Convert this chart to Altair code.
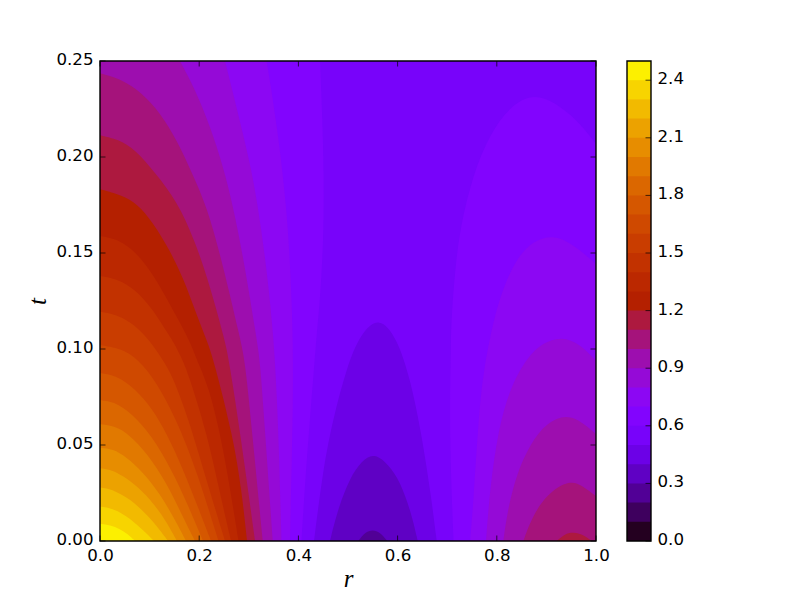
import math
import altair as alt
import pandas as pd

R_MAX, T_MAX, C_MAX = 1.0, 0.25, 2.5
x_ticks = [0.0, 0.2, 0.4, 0.6, 0.8, 1.0]
y_ticks = [0.0, 0.05, 0.10, 0.15, 0.20, 0.25]
cbar_ticks = [0.0, 0.3, 0.6, 0.9, 1.2, 1.5, 1.8, 2.1, 2.4]
band_low = [i / 10 for i in range(25)]

# contour lines: band number to fill, r values, t values
# these two bend back on themselves in r, so they are filled sideways from r = 0
left_steep = [
 (6, [.44, .4435, .4486, .4516, .4506, .4435, .4369, .4315, .4234, .4133, .4062],
     [.28, .25, .2188, .1875, .1563, .125, .1078, .0901, .0641, .0297, 0]),
 (7, [.317, .3361, .3563, .3764, .3851, .3891, .3891, .3871, .3831],
     [.28, .25, .2177, .1745, .1354, .1042, .0729, .0469, 0]),
]
left = [
 (8, [0, .223, .2520, .2782, .3024, .3185, .3367, .3508, .3569, .3609, .3659],
     [.28, .28, .25, .2229, .1969, .1745, .1406, .1042, .0729, .0469, 0]),
 (9, [0, .099, .1613, .1915, .2218, .2480, .2681, .2903, .3165, .3226, .3327, .3482],
     [.28, .28, .25, .2354, .2161, .1953, .1745, .1458, .1042, .0938, .0573, 0]),
 (10, [0, .0438, .0841, .1210, .1579, .1849, .2151, .2460, .2837, .2923, .3065, .3280],
      [.2436, .2405, .2335, .2231, .2074, .1918, .1745, .1458, .1042, .0938, .0573, 0]),
 (11, [0, .0369, .0706, .1109, .1552, .1915, .2218, .2520, .2601, .2823, .3125],
      [.2113, .2092, .2040, .1918, .1771, .1563, .1328, .1042, .0938, .0573, 0]),
 (12, [0, .0369, .0671, .0974, .1345, .1680, .1956, .2157, .2298, .2687, .2857, .2964],
      [.1832, .1806, .1771, .1693, .1545, .1371, .1172, .1042, .0938, .0538, .0260, 0]),
 (13, [0, .0369, .0706, .1075, .1446, .1815, .1956, .2177, .2480, .2792],
      [.1589, .1571, .1510, .1389, .1215, .1042, .0938, .0818, .0505, 0]),
 (14, [0, .0369, .0706, .1042, .1377, .1472, .1680, .1849, .2157, .2419, .2641],
      [.1380, .1363, .1311, .1215, .1077, .1042, .0938, .0816, .0557, .0250, 0]),
 (15, [0, .0369, .0706, .1008, .1276, .1446, .1780, .2151, .2520],
      [.1194, .1177, .1125, .1042, .0938, .0868, .0642, .0313, 0]),
 (16, [0, .0504, .0873, .1244, .1579, .1950, .2389],
      [.1021, .1000, .0920, .0781, .0608, .0365, 0]),
 (17, [0, .0363, .0706, .1048, .1351, .1673, .2006, .2238],
      [.0875, .0859, .0792, .0693, .0557, .0375, .0156, 0]),
 (18, [0, .0302, .0625, .1038, .1452, .1764, .2077],
      [.0734, .0724, .0667, .0552, .0367, .0193, 0]),
 (19, [0, .0302, .0575, .0958, .1341, .1633, .1915],
      [.0608, .0599, .0557, .0456, .0302, .0146, 0]),
 (20, [0, .0262, .0524, .0867, .1210, .1492, .1734],
      [.0486, .0479, .0438, .0359, .0245, .0120, 0]),
 (21, [0, .0242, .0464, .0776, .1089, .1331, .1552],
      [.0379, .0370, .0339, .0281, .0193, .0104, 0]),
 (22, [0, .0202, .0403, .0685, .0968, .1190, .1371],
      [.0278, .0271, .0247, .0203, .0130, .0063, 0]),
 (23, [0, .0202, .0403, .0645, .0867, .1089],
      [.0179, .0172, .0151, .0109, .0057, 0]),
 (24, [0, .0202, .0403, .0565, .0706],
      [.0090, .0083, .0063, .0036, 0]),
]
centre = [
 (4, [.4315, .4502, .4704, .4974, .5242, .5631, .5982, .6250, .6486, .6688, .6788],
     [0, .0382, .0642, .0903, .1077, .1172, .1059, .0851, .0556, .0208, 0]),
 (3, [.4637, .4804, .5040, .5276, .5524, .5813, .6048, .6284, .6405],
     [0, .0173, .0330, .0417, .0460, .0399, .0313, .0139, 0]),
 (2, [.5208, .5343, .5498, .5645, .5792], [0, .0045, .0060, .0045, 0]),
]
# the 0.6 contour on the right: its arch, then the part of band 5 that cuts into it
arch_r = [.7040, .7056, .7077, .7157, .7258, .7520, .7863, .8266, .8770, .9274, .9677, 1.0]
arch_t = [0, .0833, .1146, .1406, .1630, .1911, .2120, .2266, .2335, .2266, .2177, .2068]
cut_r = [.7127, .7056, .7056, .7077]
cut_t = [0, .0469, .0833, .1146]
right = [
 (7, [.7460, .7520, .7627, .7728, .7929, .8125, .8401, .8730, .9133, .9536, 1.0],
     [0, .0172, .0625, .0885, .1146, .1318, .1474, .1563, .1595, .1547, .1443]),
 (8, [.7782, .7863, .8024, .8266, .8603, .8931, .9308, .9677, 1.0],
     [0, .0276, .0573, .0797, .0955, .1033, .1066, .1026, .0938]),
 (9, [.8131, .8226, .8401, .8669, .9006, .9409, .9738, 1.0],
     [0, .0172, .0349, .0505, .0616, .0660, .0616, .0557]),
 (10, [.8534, .8704, .9006, .9476, .9738, 1.0],
      [0, .0121, .0245, .0320, .0286, .0234]),
 (11, [.9208, .9375, .9542, .9744, .9913], [0, .0038, .0046, .0033, 0]),
]


def band_colour(i):
    x = (i + .5) / 25
    r, g, b = math.sqrt(x), x ** 3, max(0.0, math.sin(2 * math.pi * x))
    return "#%02x%02x%02x" % (round(r * 255), round(g * 255), round(b * 255))


W, H = 496, 480
CW = 24
LABEL = dict(labelFont="DejaVu Sans", labelFontSize=16.67, labelColor="black",
             ticks=False, domain=False, grid=False, labelFlush=False)
TITLE = dict(titleFont="Liberation Serif", titleFontStyle="italic", titleFontWeight="normal",
             titleFontSize=25, titleColor="black")

x_enc = alt.X("r:Q", scale=alt.Scale(domain=[0, R_MAX], nice=False, padding=0),
              axis=alt.Axis(values=x_ticks, format=".1f", title="r", labelPadding=6,
                            titlePadding=3, **LABEL, **TITLE))
y_enc = alt.Y("t:Q", scale=alt.Scale(domain=[0, T_MAX], nice=False, padding=0),
              axis=alt.Axis(values=y_ticks, format=".2f", title="t", labelPadding=7,
                            labelOffset=-1.5, titlePadding=5, **LABEL, **TITLE))

one = alt.Data(values=[{}])


def up(band, rs, ts):
    return alt.Chart(pd.DataFrame({"r": rs, "t": ts})).mark_area(
        color=band_colour(band), clip=True, interpolate="basis"
    ).encode(x=x_enc, y=y_enc, y2=alt.value(H))


def side(band, rs, ts):
    return alt.Chart(pd.DataFrame({"r": rs, "t": ts})).mark_area(
        color=band_colour(band), clip=True, interpolate="basis", orient="horizontal"
    ).encode(x=x_enc, x2=alt.value(0), y=y_enc)


layers = [
    alt.Chart(pd.DataFrame({"r": [0.0, 1.0], "t": [0.0, 0.25]})).mark_point(opacity=0).encode(x=x_enc, y=y_enc),
    alt.Chart(one).mark_rect(color=band_colour(5)).encode(
        x=alt.value(0), x2=alt.value(W), y=alt.value(0), y2=alt.value(H)),
    up(6, arch_r, arch_t),
    side(5, cut_r, cut_t),
]
layers += [side(*c) for c in left_steep]
layers += [up(*c) for c in left + centre + right]

TICK = 5.5
xt = pd.DataFrame({"r": x_ticks})
yt = pd.DataFrame({"t": y_ticks})
for y0, y1 in ((H, H - TICK), (0, TICK)):
    layers.append(alt.Chart(xt).mark_rule(color="black", strokeWidth=0.7).encode(
        x=x_enc, y=alt.value(y0), y2=alt.value(y1)))
for x0, x1 in ((0, TICK), (W, W - TICK)):
    layers.append(alt.Chart(yt).mark_rule(color="black", strokeWidth=0.7).encode(
        y=y_enc, x=alt.value(x0), x2=alt.value(x1)))
layers.append(alt.Chart(one).mark_rect(filled=False, stroke="black", strokeWidth=1.4).encode(
    x=alt.value(0), x2=alt.value(W), y=alt.value(0), y2=alt.value(H)))

main = alt.layer(*layers).properties(width=W, height=H)

cdf = pd.DataFrame({"low": band_low, "colour": [band_colour(i) for i in range(25)]})
c_enc = alt.Y("low:Q", scale=alt.Scale(domain=[0, C_MAX], nice=False, padding=0),
              axis=alt.Axis(values=cbar_ticks, format=".1f", title=None, orient="right",
                            labelPadding=6, labelOffset=-1.5, **LABEL))
cbar = alt.layer(
    alt.Chart(cdf).mark_rect(strokeWidth=0).encode(
        y=c_enc, y2=alt.value(0), x=alt.value(0), x2=alt.value(CW),
        color=alt.Color("colour:N", scale=None)),
    alt.Chart(pd.DataFrame({"low": cbar_ticks})).mark_rule(color="black", strokeWidth=0.7).encode(
        y=c_enc, x=alt.value(CW), x2=alt.value(CW - TICK)),
    alt.Chart(one).mark_rect(filled=False, stroke="black", strokeWidth=1.4).encode(
        x=alt.value(0), x2=alt.value(CW), y=alt.value(0), y2=alt.value(H)),
).properties(width=CW, height=H)

chart = alt.hconcat(main, cbar, spacing=31, bounds="flush").properties(
    padding={"left": 17, "top": 43, "right": 0, "bottom": 0}
).configure_view(stroke=None)

chart.save("out.html", embed_options={"renderer": "svg", "actions": False})
